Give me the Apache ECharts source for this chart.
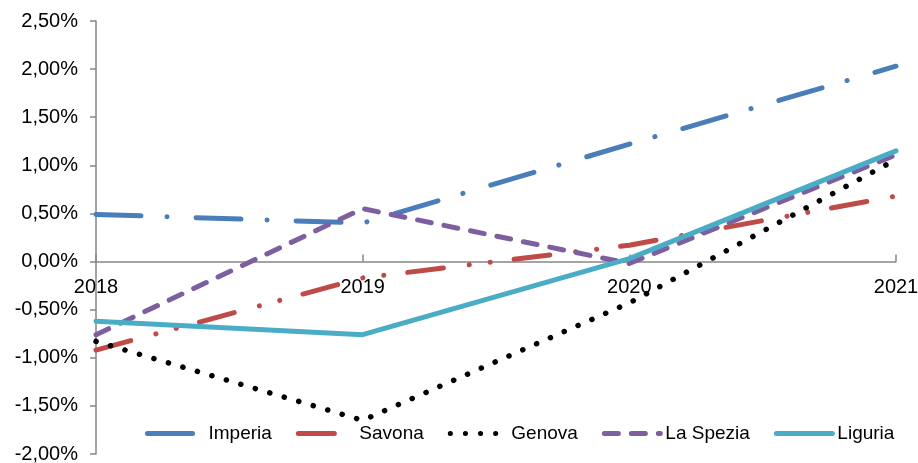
<!DOCTYPE html>
<html><head><meta charset="utf-8">
<script src="https://cdn.jsdelivr.net/npm/echarts@6/dist/echarts.min.js"></script>
<style>html,body{margin:0;padding:0;background:#fff}#c{width:918px;height:463px}</style>
</head><body><div id="c"></div>
<script>
const years = ['2018','2019','2020','2021'];
const imperia = [0.49, 0.40, 1.22, 2.03];
const savona = [-0.92, -0.17, 0.17, 0.68];
const genova = [-0.83, -1.65, -0.43, 1.06];
const laSpezia = [-0.76, 0.55, -0.02, 1.11];
const liguria = [-0.62, -0.76, 0.03, 1.15];
const seriesNames = ['Imperia','Savona','Genova','La Spezia','Liguria'];
const yMin = -2, yMax = 2.5, yStep = 0.5;

const W = 918, H = 463, gTop = 21, gBottom = 9, gLeft = 96, gRight = 22;
const gH = H - gTop - gBottom;
const zeroOffset = -gH * (0 - yMin) / (yMax - yMin);

const font = 'Liberation Sans, Arial, sans-serif';
const fmt = v => v.toFixed(2).replace('.', ',') + '%';
function mk(name, data, color, dash, w) {
  return {
    name, type: 'line', data, symbol: 'none', showSymbol: false, smooth: false,
    lineStyle: { color, width: w || 5, type: dash, cap: 'round', join: 'round' },
    itemStyle: { color },
    emphasis: { disabled: true }
  };
}
const chart = echarts.init(document.getElementById('c'));
chart.setOption({
  animation: false,
  grid: { left: gLeft, right: gRight, top: gTop, bottom: gBottom, containLabel: false, outerBoundsMode: 'none' },
  legend: {
    data: seriesNames, bottom: 15, left: 140, itemWidth: 56, itemHeight: 8, itemGap: 24,
    itemStyle: { opacity: 0 },
    lineStyle: { width: 5, cap: 'round' },
    textStyle: { fontFamily: font, fontSize: 19, color: '#000' }
  },
  xAxis: {
    type: 'category', data: years, boundaryGap: false, position: 'bottom', offset: zeroOffset,
    axisLine: { onZero: false, lineStyle: { color: '#868686', width: 1.5 } },
    axisTick: { show: true, inside: true, alignWithLabel: true, length: 7, lineStyle: { color: '#868686', width: 1.5 } },
    axisLabel: { interval: 0, margin: 16, fontFamily: font, fontSize: 20, color: '#000' },
    splitLine: { show: false }
  },
  yAxis: {
    type: 'value', min: yMin, max: yMax, interval: yStep,
    axisLine: { show: true, lineStyle: { color: '#868686', width: 1.5 } },
    axisTick: { show: true, length: 6, lineStyle: { color: '#868686', width: 1.5 } },
    axisLabel: { margin: 18, fontFamily: font, fontSize: 20, color: '#000', formatter: fmt },
    splitLine: { show: false }
  },
  series: [
    mk('Imperia', imperia, '#4A7EBB', [45, 26, 0.1, 29]),
    mk('Savona', savona, '#BE4B48', [36, 26, 0.1, 21, 0.1, 24]),
    mk('Genova', genova, '#000000', [0.1, 15], 5.5),
    mk('La Spezia', laSpezia, '#7D5FA0', [14, 13]),
    mk('Liguria', liguria, '#4BACC6', 'solid')
  ]
});
</script></body></html>
